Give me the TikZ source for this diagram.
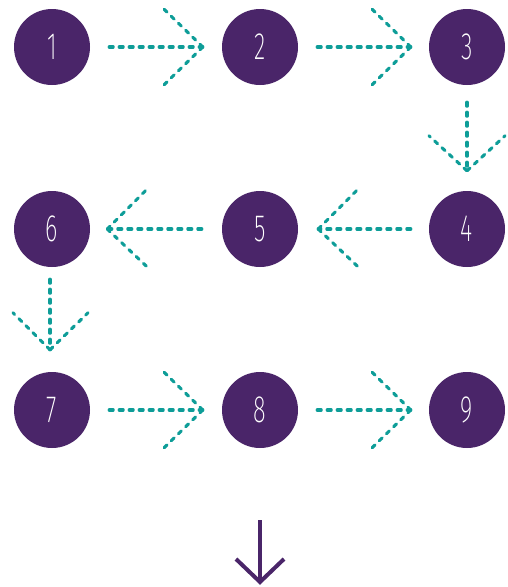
\documentclass[tikz,border=0pt]{standalone}
\usepackage{graphicx}
\usepackage{fontspec}
\newfontfamily\thindigits{Fira Sans ExtraLight}
\usetikzlibrary{calc}
\definecolor{plum}{HTML}{4A2569}
\definecolor{sea}{HTML}{0E9D98}
\newcommand\dg[1]{\scalebox{0.62}[1]{#1}}
\tikzset{
  x=1pt, y=-1pt,
  num/.style={circle, fill=plum, minimum size=76pt, inner sep=0pt, text=white,
              font=\fontsize{38}{38}\selectfont\thindigits},
  flow/.style={sea, line width=3.1pt, line cap=round, dash pattern=on 4pt off 6pt},
  bigdown/.style={plum, line width=4pt, line join=miter},
}
\begin{document}
\begin{tikzpicture}
\useasboundingbox (0,0) rectangle (507,587);

% numbered stages
\node[num] (n1) at (52,47)   {\dg{1}};
\node[num] (n2) at (260,47)  {\dg{2}};
\node[num] (n3) at (467,47)  {\dg{3}};
\node[num] (n4) at (467,229) {\dg{4}};
\node[num] (n5) at (260,229) {\dg{5}};
\node[num] (n6) at (52,229)  {\dg{6}};
\node[num] (n7) at (52,410)  {\dg{7}};
\node[num] (n8) at (260,410) {\dg{8}};
\node[num] (n9) at (467,410) {\dg{9}};

% row 1: left to right
\draw[flow] ($(n1.east)+(19,0)$) -- ($(n2.west)+(-19,0)$) coordinate (t12);
\draw[flow] (t12) -- ++(-39,-38) (t12) -- ++(-39,38);
\draw[flow] ($(n2.east)+(19,0)$) -- ($(n3.west)+(-18,0)$) coordinate (t23);
\draw[flow] (t23) -- ++(-39,-38) (t23) -- ++(-39,38);

% down to row 2
\draw[flow] ($(n3.south)+(0,17)$) -- ($(n4.north)+(0,-20)$) coordinate (t34);
\draw[flow] (t34) -- ++(-38,-35) (t34) -- ++(38,-35);

% row 2: right to left
\draw[flow] ($(n4.west)+(-18,0)$) -- ($(n5.east)+(20,0)$) coordinate (t45);
\draw[flow] (t45) -- ++(39,-39) (t45) -- ++(39,37);
\draw[flow] ($(n5.west)+(-20,0)$) -- ($(n6.east)+(17,0)$) coordinate (t56);
\draw[flow] (t56) -- ++(39,-39) (t56) -- ++(39,37);

% down to row 3
\draw[flow] ($(n6.south)+(-2,12)$) -- ($(n7.north)+(-2,-22)$) coordinate (t67);
\draw[flow] (t67) -- ++(-37,-37) (t67) -- ++(38,-37);

% row 3: left to right
\draw[flow] ($(n7.east)+(19,0)$) -- ($(n8.west)+(-19,0)$) coordinate (t78);
\draw[flow] (t78) -- ++(-39,-38) (t78) -- ++(-39,38);
\draw[flow] ($(n8.east)+(19,0)$) -- ($(n9.west)+(-18,0)$) coordinate (t89);
\draw[flow] (t89) -- ++(-39,-38) (t89) -- ++(-39,38);

% continuation arrow
\coordinate (c0) at (260,520);
\coordinate (c1) at (260,582);
\draw[bigdown] (c0) -- (c1);
\draw[bigdown] ($(c1)+(-24,-23)$) -- (c1) -- ($(c1)+(24,-23)$);
\end{tikzpicture}
\end{document}
